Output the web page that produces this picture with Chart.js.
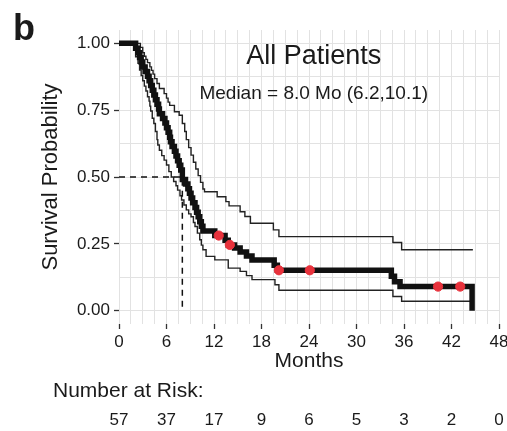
<!DOCTYPE html>
<html>
<head>
<meta charset="utf-8">
<script src="https://cdn.jsdelivr.net/npm/chart.js@4.4.1/dist/chart.umd.min.js"></script>
<style>
  html, body { margin: 0; padding: 0; background: #fff; }
  #wrap { width: 507px; height: 431px; }
</style>
</head>
<body>
<div id="wrap"><canvas id="graficaKM"></canvas></div>
<script>
// Kaplan-Meier estimate (time in months, survival after the step)
const kmTimes = [0, 2.1, 2.4, 2.6, 2.8, 3.0, 3.3, 3.6, 3.8, 4.0, 4.2, 4.4, 4.6, 4.8, 5.0, 5.1, 5.5, 5.8, 6.0, 6.2,
    6.4, 6.5, 6.7, 7.0, 7.2, 7.4, 7.6, 7.8, 8.0, 8.4, 8.7, 8.9, 9.1, 9.3, 9.6, 9.8, 10.0, 10.2, 10.4, 10.6,
    12.1, 13.4, 13.8, 14.6, 15.3, 16.1, 16.8, 19.6, 20.0, 34.4, 34.8, 35.5, 44.6];
const kmSurv = [1, 0.982, 0.965, 0.947, 0.930, 0.912, 0.895, 0.877, 0.860, 0.842, 0.825, 0.807, 0.789, 0.772, 0.754, 0.737, 0.719, 0.702, 0.684, 0.667,
    0.649, 0.632, 0.614, 0.596, 0.579, 0.561, 0.544, 0.526, 0.491, 0.474, 0.456, 0.439, 0.421, 0.404, 0.386, 0.368, 0.351, 0.333, 0.316, 0.298,
    0.281, 0.263, 0.246, 0.234, 0.219, 0.204, 0.189, 0.170, 0.151, 0.129, 0.108, 0.090, 0];

// upper confidence band
const upperTimes = [0, 2.7, 3.0, 3.2, 3.4, 3.6, 3.9, 4.1, 4.3, 4.5, 4.8, 5.1, 5.7, 6.0, 6.2, 6.4, 7.0, 7.6, 8.0, 8.3,
    8.5, 8.8, 9.1, 9.4, 9.7, 10.0, 10.3, 10.6, 10.8, 12.4, 13.5, 13.9, 15.3, 15.9, 16.6, 19.5, 20.2, 34.6, 35.7, 44.7];
const upperSurv = [1, 0.985, 0.965, 0.952, 0.940, 0.928, 0.912, 0.899, 0.885, 0.868, 0.850, 0.831, 0.812, 0.795, 0.780, 0.768, 0.744, 0.731, 0.700, 0.670,
    0.640, 0.610, 0.582, 0.555, 0.530, 0.505, 0.480, 0.455, 0.445, 0.426, 0.408, 0.392, 0.370, 0.352, 0.327, 0.302, 0.277, 0.255, 0.228, 0.228];

// lower confidence band
const lowerTimes = [0, 2.1, 2.4, 2.6, 2.8, 3.0, 3.2, 3.4, 3.6, 3.8, 3.9, 4.0, 4.2, 4.4, 4.6, 4.8, 4.9, 5.1, 5.4, 5.7,
    6.0, 6.3, 6.6, 6.9, 7.2, 7.4, 7.7, 7.9, 8.2, 8.5, 8.8, 9.1, 9.4, 9.6, 9.9, 10.2, 10.4, 10.6, 11.0, 12.1,
    13.8, 15.3, 16.1, 16.8, 19.7, 20.2, 34.6, 35.7, 44.5];
const lowerSurv = [1, 0.950, 0.925, 0.900, 0.880, 0.860, 0.840, 0.822, 0.800, 0.784, 0.765, 0.747, 0.720, 0.700, 0.670, 0.640, 0.620, 0.600, 0.580, 0.563,
    0.545, 0.520, 0.500, 0.483, 0.467, 0.451, 0.430, 0.414, 0.395, 0.377, 0.362, 0.351, 0.330, 0.315, 0.290, 0.265, 0.245, 0.228, 0.203, 0.190,
    0.159, 0.147, 0.131, 0.116, 0.097, 0.076, 0.053, 0.035, 0.035];

// censored patients
const censorTimes = [12.6, 14.0, 20.2, 24.1, 40.3, 43.1];
const censorSurv = [0.281, 0.246, 0.151, 0.151, 0.090, 0.090];

const medianTime = 8.0;
const xTicks = [0, 6, 12, 18, 24, 30, 36, 42, 48];
const yTicks = [0, 0.25, 0.5, 0.75, 1];
const riskTimes = [0, 6, 12, 18, 24, 30, 36, 42, 48];
const riskCounts = [57, 37, 17, 9, 6, 5, 3, 2, 0];

const FONT = "'Liberation Sans', Arial, Helvetica, sans-serif";
const INK = '#1a1a1a';

function aPuntos(xs, ys) {
    return xs.map((x, i) => ({ x: x, y: ys[i] }));
}

// texts that ggsurvplot puts around the panel
const textosPlugin = {
    id: 'textos',
    afterDraw(chart) {
        const { ctx, scales: { x, y } } = chart;
        ctx.save();
        ctx.fillStyle = INK;

        ctx.font = 'bold 36px ' + FONT;
        ctx.textAlign = 'left';
        ctx.textBaseline = 'alphabetic';
        ctx.fillText('b', 13, 40);

        ctx.textAlign = 'center';
        ctx.textBaseline = 'middle';
        ctx.font = '27px ' + FONT;
        ctx.fillText('All Patients', x.getPixelForValue(24.6), y.getPixelForValue(0.949));
        ctx.font = '19px ' + FONT;
        ctx.fillText('Median = 8.0 Mo (6.2,10.1)', x.getPixelForValue(24.6), y.getPixelForValue(0.812));

        ctx.textAlign = 'left';
        ctx.font = '21px ' + FONT;
        ctx.fillText('Number at Risk:', 53, 391);

        ctx.textAlign = 'center';
        ctx.font = '17px ' + FONT;
        riskTimes.forEach((t, i) => {
            ctx.fillText(String(riskCounts[i]), x.getPixelForValue(t), 420);
        });
        ctx.restore();
    }
};

function inicializarGraficaKM() {
    const ctx = document.getElementById('graficaKM').getContext('2d');

    new Chart(ctx, {
        type: 'line',
        data: {
            datasets: [
                {
                    label: 'Censored',
                    type: 'scatter',
                    order: 0,
                    data: aPuntos(censorTimes, censorSurv),
                    backgroundColor: '#e8323c',
                    borderColor: '#e8323c',
                    borderWidth: 1,
                    pointStyle: 'circle',
                    pointRadius: 4.6,
                    showLine: false
                },
                {
                    label: 'All Patients',
                    order: 1,
                    data: aPuntos(kmTimes, kmSurv),
                    borderColor: '#111',
                    borderWidth: 5.5,
                    borderJoinStyle: 'miter',
                    borderCapStyle: 'butt',
                    stepped: true,
                    pointRadius: 0
                },
                {
                    label: 'Median',
                    order: 2,
                    data: [{ x: 0, y: 0.5 }, { x: medianTime, y: 0.5 }, { x: medianTime, y: 0 }],
                    borderColor: '#111',
                    borderWidth: 1.5,
                    borderDash: [6, 5],
                    pointRadius: 0
                },
                {
                    label: 'Upper',
                    order: 3,
                    data: aPuntos(upperTimes, upperSurv),
                    borderColor: '#222',
                    borderWidth: 1.4,
                    stepped: true,
                    pointRadius: 0
                },
                {
                    label: 'Lower',
                    order: 3,
                    data: aPuntos(lowerTimes, lowerSurv),
                    borderColor: '#222',
                    borderWidth: 1.4,
                    stepped: true,
                    pointRadius: 0
                }
            ]
        },
        options: {
            responsive: true,
            maintainAspectRatio: false,
            animation: false,
            layout: {
                padding: { top: 30, right: 8, bottom: 57, left: 0 }
            },
            scales: {
                x: {
                    type: 'linear',
                    min: 0,
                    max: 48,
                    afterBuildTicks: (scale) => {
                        const t = [];
                        for (let v = 0; v <= 48; v += 1.5) t.push({ value: v });
                        scale.ticks = t;
                    },
                    afterFit: (scale) => {
                        scale.height = 50;
                        scale.paddingLeft = 0;
                        scale.paddingRight = 0;
                    },
                    ticks: {
                        autoSkip: false,
                        maxRotation: 0,
                        padding: 3,
                        color: INK,
                        font: { family: FONT, size: 17 },
                        callback: (value) => xTicks.includes(value) ? String(value) : ''
                    },
                    grid: {
                        color: '#e2e2e2',
                        lineWidth: 1,
                        tickLength: 5,
                        tickWidth: 1.3,
                        tickColor: (c) => (c.tick && xTicks.includes(c.tick.value)) ? '#333' : 'rgba(0,0,0,0)'
                    },
                    border: { display: false },
                    title: {
                        display: true,
                        text: 'Months',
                        color: INK,
                        font: { family: FONT, size: 21 },
                        padding: { top: 0, bottom: 0 }
                    }
                },
                y: {
                    type: 'linear',
                    min: -0.05,
                    max: 1.05,
                    afterBuildTicks: (scale) => {
                        const t = [];
                        for (let v = 0; v <= 1; v += 0.125) t.push({ value: v });
                        scale.ticks = t;
                    },
                    afterFit: (scale) => {
                        scale.width = 119;
                    },
                    ticks: {
                        autoSkip: false,
                        padding: 4,
                        color: INK,
                        font: { family: FONT, size: 17 },
                        callback: (value) => yTicks.includes(value) ? value.toFixed(2) : ''
                    },
                    grid: {
                        color: '#e2e2e2',
                        lineWidth: 1,
                        tickLength: 5,
                        tickWidth: 1.3,
                        tickColor: (c) => (c.tick && yTicks.includes(c.tick.value)) ? '#333' : 'rgba(0,0,0,0)'
                    },
                    border: { display: false },
                    title: {
                        display: true,
                        text: 'Survival Probability',
                        color: INK,
                        font: { family: FONT, size: 22 },
                        padding: { top: 38, bottom: 0 }
                    }
                }
            },
            plugins: {
                legend: { display: false },
                tooltip: { enabled: false }
            }
        },
        plugins: [textosPlugin]
    });
}

inicializarGraficaKM();
</script>
</body>
</html>
